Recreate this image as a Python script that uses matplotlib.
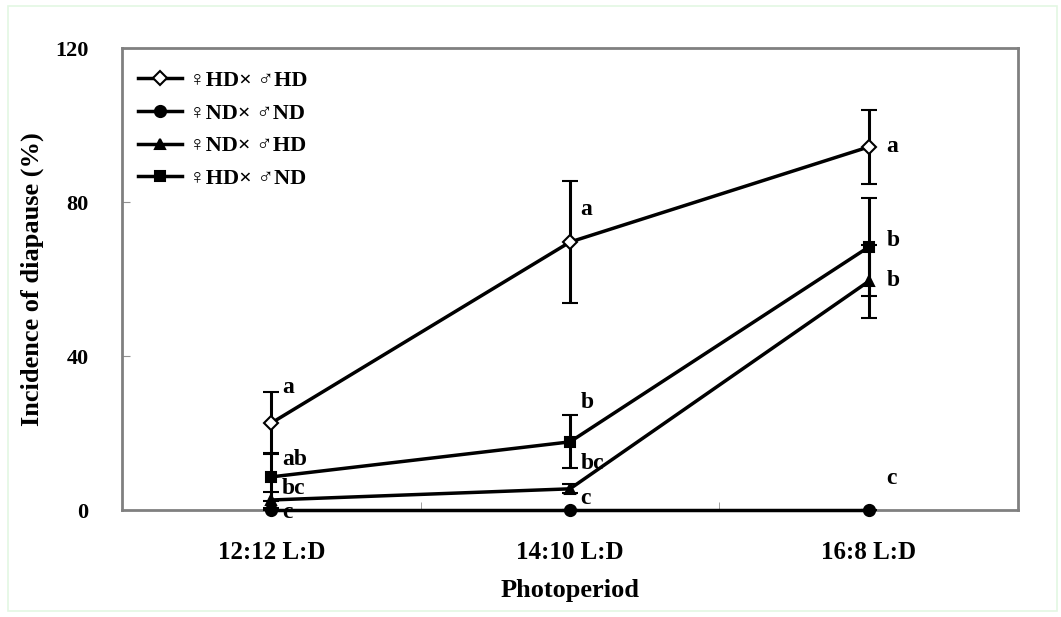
import numpy as np
import matplotlib
matplotlib.use("Agg")
import matplotlib.pyplot as plt
from matplotlib.patches import Rectangle
from matplotlib.lines import Line2D

plt.rcParams['font.family'] = ['Liberation Serif', 'DejaVu Sans']
plt.rcParams['font.weight'] = 'bold'

# ---- data ----
photoperiods = ["12:12 L:D", "14:10 L:D", "16:8 L:D"]

hdxhd = [22.6, 69.6, 94.3]
hdxhd_err = [8.0, 15.9, 9.7]

ndxnd = [0.0, 0.0, 0.0]
ndxnd_err = [0.0, 0.0, 0.0]

ndxhd = [2.6, 5.5, 59.4]
ndxhd_err = [2.0, 1.2, 9.4]

hdxnd = [8.6, 17.7, 68.3]
hdxnd_err = [6.3, 6.9, 12.7]

series_names = ["\u2640HD\u00d7 \u2642HD", "\u2640ND\u00d7 \u2642ND",
                "\u2640ND\u00d7 \u2642HD", "\u2640HD\u00d7 \u2642ND"]

# significance letters per photoperiod (top to bottom)
letters = [["a", "ab", "bc", "c"],
           ["a", "b", "bc", "c"],
           ["a", "b", "b", "c"]]
letter_y = [[31.7, 13.0, 5.7, -0.6],
            [78.0, 27.8, 12.0, 3.1],
            [94.3, 70.0, 59.7, 8.3]]

# ---- plotting ----
fig = plt.figure(figsize=(10.61, 6.17), dpi=100)
ax = fig.add_axes([122 / 1061, 1 - 510 / 617, 896 / 1061, 462 / 617])

x = np.arange(len(photoperiods))
styles = [
    (hdxhd, hdxhd_err, dict(marker='D', markersize=7, markerfacecolor='white')),
    (ndxnd, ndxnd_err, dict(marker='o', markersize=8, markerfacecolor='black')),
    (ndxhd, ndxhd_err, dict(marker='^', markersize=7, markerfacecolor='black')),
    (hdxnd, hdxnd_err, dict(marker='s', markersize=7, markerfacecolor='black')),
]
handles = []
for (vals, errs, st), name in zip(styles, series_names):
    ax.errorbar(x, vals, yerr=errs, color='black', lw=2.5, elinewidth=2.2,
                capsize=6, capthick=2.2, markeredgecolor='black',
                markeredgewidth=1.5, clip_on=False, zorder=3, **st)
    handles.append(Line2D([], [], color='black', lw=2.5, markeredgecolor='black',
                          markeredgewidth=1.5, label=name, **st))

for i, labs in enumerate(letters):
    dx = 0.035 if i < 2 else 0.06
    for lab, yv in zip(labs, letter_y[i]):
        ax.text(i + dx, yv, lab, fontsize=17, fontweight='bold',
                ha='left', va='center', zorder=4)

ax.set_xlim(-0.5, 2.5)
ax.set_ylim(0, 120)
ax.set_yticks([0, 40, 80, 120])
ax.set_xticks(x)
ax.set_xticklabels(photoperiods)
ax.set_xticks([0.5, 1.5], minor=True)
ax.tick_params(axis='x', which='major', length=0, pad=22, labelsize=18)
ax.tick_params(axis='x', which='minor', direction='in', length=6, color='#909090')
ax.tick_params(axis='y', direction='in', length=6, color='#909090', pad=24, labelsize=16)
for lab in ax.get_xticklabels() + ax.get_yticklabels():
    lab.set_fontweight('bold')

for sp in ax.spines.values():
    sp.set_color('#808080')
    sp.set_linewidth(2)

ax.set_xlabel("Photoperiod", fontsize=19, fontweight='bold', labelpad=11)
ax.set_ylabel("Incidence of diapause (%)", fontsize=19, fontweight='bold', labelpad=8)

ax.legend(handles=handles, loc='upper left', bbox_to_anchor=(-0.005, 0.995),
          frameon=False, handlelength=2.0, labelspacing=0.55,
          handletextpad=0.3, prop={'weight': 'bold', 'size': 16})

fig.patches.append(Rectangle((8 / 1061, 6 / 617), 1049 / 1061, 605 / 617,
                             transform=fig.transFigure, fill=False,
                             edgecolor='#e3f7e3', lw=1.2))

fig.savefig("out.png", dpi=100)
